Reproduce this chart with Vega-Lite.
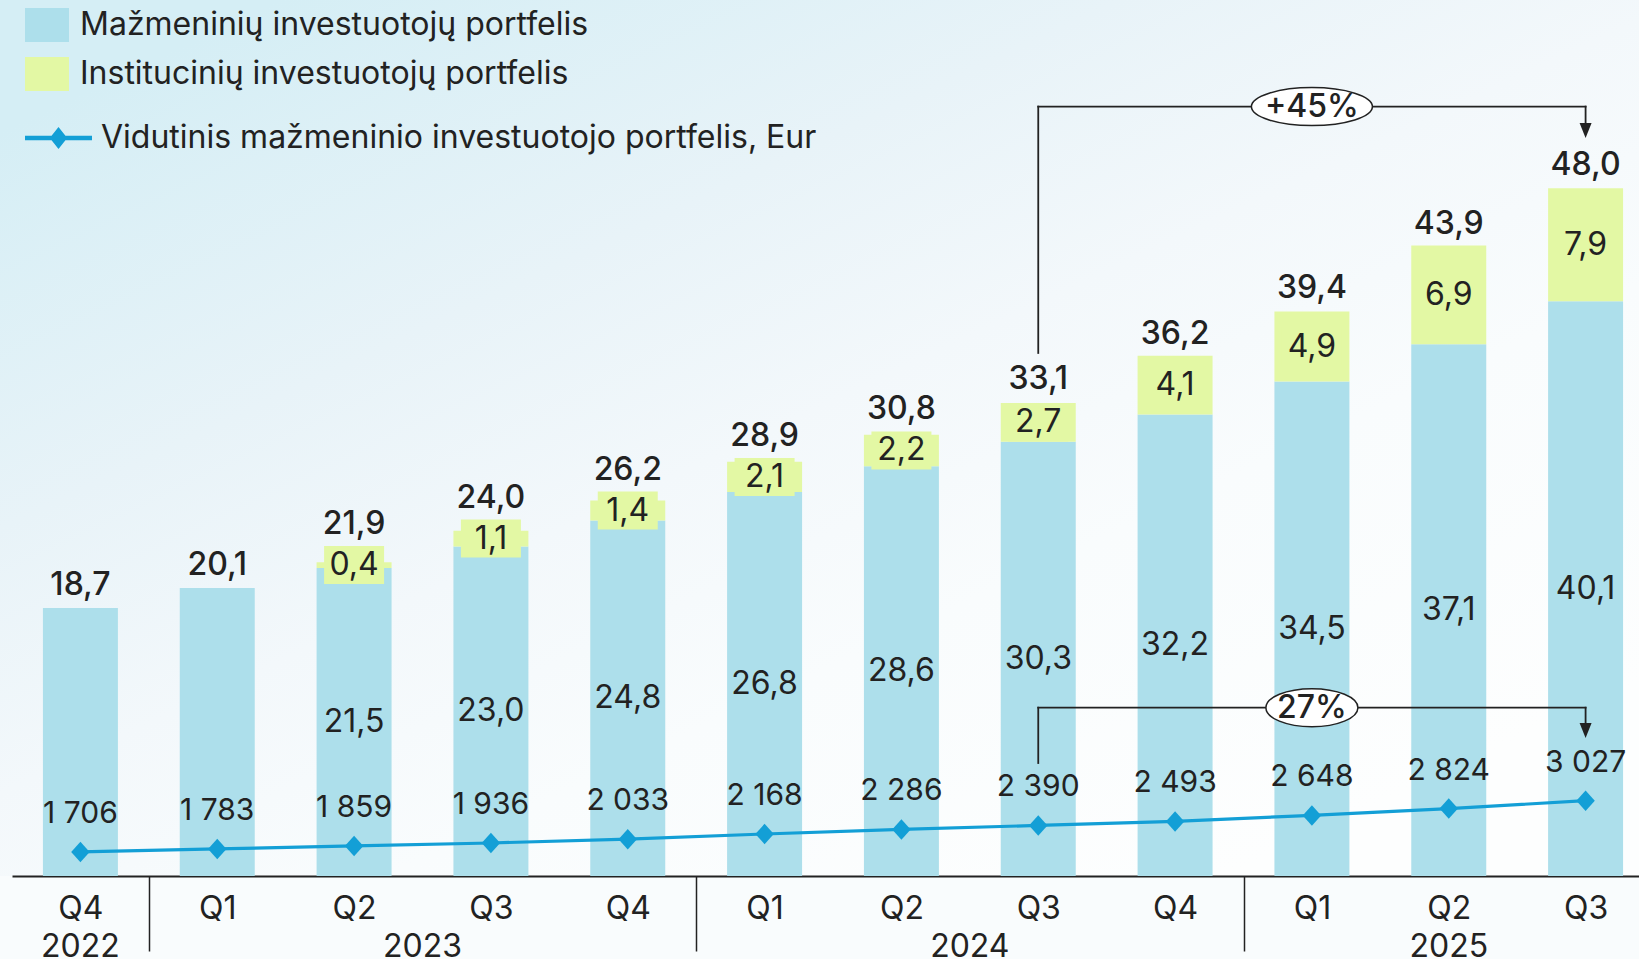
{
  "$schema": "https://vega.github.io/schema/vega-lite/v6.json",
  "width": 1639,
  "height": 876,
  "autosize": {"type": "none"},
  "padding": {"left": 0, "top": 0, "right": 0, "bottom": 83},
  "background": "#f9fcfd",
  "view": {
    "stroke": null,
    "fill": {
      "gradient": "linear",
      "x1": 0, "y1": 0.15, "x2": 0.75, "y2": 1,
      "stops": [
        {"offset": 0, "color": "#d5eef5"},
        {"offset": 0.3, "color": "#e8f3f8"},
        {"offset": 0.5, "color": "#f3f8fb"},
        {"offset": 0.7, "color": "#f9fcfd"},
        {"offset": 1, "color": "#fdfefe"}
      ]
    }
  },
  "config": {
    "font": "Inter",
    "locale": {"number": {"decimal": ",", "thousands": " ", "grouping": [3], "currency": ["", ""]}},
    "view": {"stroke": null}
  },
  "data": {
    "values": [
      {"q": "2022 Q4", "retail": 18.7, "inst": null, "total": 18.7, "avg": 1706},
      {"q": "2023 Q1", "retail": 20.1, "inst": null, "total": 20.1, "avg": 1783},
      {"q": "2023 Q2", "retail": 21.5, "inst": 0.4, "total": 21.9, "avg": 1859},
      {"q": "2023 Q3", "retail": 23.0, "inst": 1.1, "total": 24.0, "avg": 1936},
      {"q": "2023 Q4", "retail": 24.8, "inst": 1.4, "total": 26.2, "avg": 2033},
      {"q": "2024 Q1", "retail": 26.8, "inst": 2.1, "total": 28.9, "avg": 2168},
      {"q": "2024 Q2", "retail": 28.6, "inst": 2.2, "total": 30.8, "avg": 2286},
      {"q": "2024 Q3", "retail": 30.3, "inst": 2.7, "total": 33.1, "avg": 2390},
      {"q": "2024 Q4", "retail": 32.2, "inst": 4.1, "total": 36.2, "avg": 2493},
      {"q": "2025 Q1", "retail": 34.5, "inst": 4.9, "total": 39.4, "avg": 2648},
      {"q": "2025 Q2", "retail": 37.1, "inst": 6.9, "total": 43.9, "avg": 2824},
      {"q": "2025 Q3", "retail": 40.1, "inst": 7.9, "total": 48.0, "avg": 3027}
    ]
  },
  "encoding": {
    "x": {
      "field": "q",
      "type": "nominal",
      "sort": null,
      "scale": {
        "domain": ["2022 Q4", "2023 Q1", "2023 Q2", "2023 Q3", "2023 Q4", "2024 Q1", "2024 Q2", "2024 Q3", "2024 Q4", "2025 Q1", "2025 Q2", "2025 Q3"],
        "range": [12, 1654],
        "paddingInner": 0,
        "paddingOuter": 0
      },
      "axis": {
        "title": null,
        "grid": false,
        "domainColor": "#222222",
        "domainWidth": 2,
        "tickBand": "extent",
        "tickSize": 75,
        "tickWidth": 1.5,
        "tickColor": {
          "condition": {"test": "indexof(['2022 Q4','2023 Q4','2024 Q4'], datum.value) >= 0", "value": "#222222"},
          "value": "transparent"
        },
        "labelExpr": "split(datum.value, ' ')[1]",
        "labelAngle": 0,
        "labelAlign": "center",
        "labelFontSize": 32,
        "labelColor": "#222222",
        "labelBaseline": "middle",
        "labelPadding": -43,
        "labelOverlap": false,
        "labelBound": false,
        "labelFlush": false
      }
    }
  },
  "layer": [
    {
      "layer": [
        {
          "transform": [{"fold": ["retail", "inst"], "as": ["key", "value"]}],
          "mark": {"type": "bar", "width": {"band": 0.548}},
          "encoding": {
            "y": {"field": "value", "type": "quantitative", "stack": "zero", "scale": {"domain": [0, 61.13], "nice": false, "zero": false}, "axis": null},
            "color": {
              "field": "key",
              "type": "nominal",
              "scale": {"domain": ["retail", "inst"], "range": ["#addfeb", "#e3f8a4"]},
              "legend": {
                "title": null,
                "orient": "none",
                "legendX": 25,
                "legendY": 3,
                "direction": "vertical",
                "padding": 0,
                "symbolType": "M-1,-0.773H1V0.773H-1Z",
                "symbolSize": 1936,
                "symbolStrokeWidth": 0,
                "symbolOpacity": 1,
                "labelFontSize": 32,
                "labelColor": "#222222",
                "labelOffset": 11,
                "labelLimit": 0,
                "rowPadding": 9,
                "labelExpr": "datum.value == 'retail' ? 'Mažmeninių investuotojų portfelis' : 'Institucinių investuotojų portfelis'"
              }
            },
            "order": {"field": "key", "sort": "descending"}
          }
        },
        {
          "transform": [{"filter": "datum.inst == null || datum.inst >= 2.65"}],
          "mark": {"type": "text", "baseline": "middle", "dy": -23, "fontSize": 32, "fontWeight": 500, "color": "#222222"},
          "encoding": {
            "y": {"field": "total", "type": "quantitative", "scale": {"domain": [0, 61.13], "nice": false, "zero": false}, "axis": null},
            "text": {"field": "total", "type": "quantitative", "format": ".1f"}
          }
        },
        {
          "data": {"values": [{"q": "2022 Q4", "year": "2022"}, {"q": "2025 Q2", "year": "2025"}]},
          "mark": {"type": "text", "baseline": "middle", "fontSize": 32, "color": "#222222"},
          "encoding": {
            "x": {"field": "q", "type": "nominal", "bandPosition": 0.5},
            "y": {"datum": -4.95, "type": "quantitative", "scale": {"domain": [0, 61.13], "nice": false, "zero": false}, "axis": null},
            "text": {"field": "year"}
          }
        },
        {
          "data": {"values": [{"q": "2023 Q2", "year": "2023"}, {"q": "2024 Q2", "year": "2024"}]},
          "mark": {"type": "text", "baseline": "middle", "fontSize": 32, "color": "#222222"},
          "encoding": {
            "x": {"field": "q", "type": "nominal", "bandPosition": 1},
            "y": {"datum": -4.95, "type": "quantitative", "scale": {"domain": [0, 61.13], "nice": false, "zero": false}, "axis": null},
            "text": {"field": "year"}
          }
        },
        {
          "data": {"values": [{}]},
          "mark": {"type": "rule", "color": "#222222", "strokeWidth": 1.8, "strokeCap": "square"},
          "encoding": {"x": {"datum": "2024 Q3"}, "y": {"datum": 36.5, "type": "quantitative", "scale": {"domain": [0, 61.13], "nice": false, "zero": false}, "axis": null}, "y2": {"datum": 53.69}}
        },
        {
          "data": {"values": [{}]},
          "mark": {"type": "rule", "color": "#222222", "strokeWidth": 1.8, "strokeCap": "square"},
          "encoding": {"x": {"datum": "2024 Q3"}, "x2": {"datum": "2025 Q3"}, "y": {"datum": 53.69, "type": "quantitative", "scale": {"domain": [0, 61.13], "nice": false, "zero": false}, "axis": null}}
        },
        {
          "data": {"values": [{}]},
          "mark": {"type": "rule", "color": "#222222", "strokeWidth": 1.8, "strokeCap": "square"},
          "encoding": {"x": {"datum": "2025 Q3"}, "y": {"datum": 53.69, "type": "quantitative", "scale": {"domain": [0, 61.13], "nice": false, "zero": false}, "axis": null}, "y2": {"datum": 52.4}}
        },
        {
          "data": {"values": [{}]},
          "mark": {"type": "point", "shape": "M-0.8,-1L0.8,-1L0,1Z", "size": 225, "filled": true, "fill": "#222222", "opacity": 1, "strokeWidth": 0},
          "encoding": {"x": {"datum": "2025 Q3"}, "y": {"datum": 52.02, "type": "quantitative", "scale": {"domain": [0, 61.13], "nice": false, "zero": false}, "axis": null}}
        },
        {
          "data": {"values": [{}]},
          "mark": {"type": "point", "shape": "M-1,0A1,0.314,0,1,1,1,0A1,0.314,0,1,1,-1,0Z", "size": 14641, "filled": true, "fill": "#ffffff", "stroke": "#222222", "strokeWidth": 1.5, "opacity": 1},
          "encoding": {"x": {"datum": "2025 Q1"}, "y": {"datum": 53.69, "type": "quantitative", "scale": {"domain": [0, 61.13], "nice": false, "zero": false}, "axis": null}}
        },
        {
          "data": {"values": [{}]},
          "mark": {"type": "text", "text": "+45%", "baseline": "middle", "fontSize": 32, "fontWeight": 500, "color": "#222222"},
          "encoding": {"x": {"datum": "2025 Q1"}, "y": {"datum": 53.69, "type": "quantitative", "scale": {"domain": [0, 61.13], "nice": false, "zero": false}, "axis": null}}
        },
        {
          "data": {"values": [{}]},
          "mark": {"type": "rule", "color": "#222222", "strokeWidth": 1.8, "strokeCap": "square"},
          "encoding": {"x": {"datum": "2024 Q3"}, "y": {"datum": 7.885, "type": "quantitative", "scale": {"domain": [0, 61.13], "nice": false, "zero": false}, "axis": null}, "y2": {"datum": 11.745}}
        },
        {
          "data": {"values": [{}]},
          "mark": {"type": "rule", "color": "#222222", "strokeWidth": 1.8, "strokeCap": "square"},
          "encoding": {"x": {"datum": "2024 Q3"}, "x2": {"datum": "2025 Q3"}, "y": {"datum": 11.745, "type": "quantitative", "scale": {"domain": [0, 61.13], "nice": false, "zero": false}, "axis": null}}
        },
        {
          "data": {"values": [{}]},
          "mark": {"type": "rule", "color": "#222222", "strokeWidth": 1.8, "strokeCap": "square"},
          "encoding": {"x": {"datum": "2025 Q3"}, "y": {"datum": 11.745, "type": "quantitative", "scale": {"domain": [0, 61.13], "nice": false, "zero": false}, "axis": null}, "y2": {"datum": 10.6}}
        },
        {
          "data": {"values": [{}]},
          "mark": {"type": "point", "shape": "M-0.8,-1L0.8,-1L0,1Z", "size": 225, "filled": true, "fill": "#222222", "opacity": 1, "strokeWidth": 0},
          "encoding": {"x": {"datum": "2025 Q3"}, "y": {"datum": 10.15, "type": "quantitative", "scale": {"domain": [0, 61.13], "nice": false, "zero": false}, "axis": null}}
        },
        {
          "data": {"values": [{}]},
          "mark": {"type": "point", "shape": "M-1,0A1,0.413,0,1,1,1,0A1,0.413,0,1,1,-1,0Z", "size": 8464, "filled": true, "fill": "#ffffff", "stroke": "#222222", "strokeWidth": 1.5, "opacity": 1},
          "encoding": {"x": {"datum": "2025 Q1"}, "y": {"datum": 11.745, "type": "quantitative", "scale": {"domain": [0, 61.13], "nice": false, "zero": false}, "axis": null}}
        },
        {
          "data": {"values": [{}]},
          "mark": {"type": "text", "text": "27%", "baseline": "middle", "fontSize": 32, "fontWeight": 500, "color": "#222222"},
          "encoding": {"x": {"datum": "2025 Q1"}, "y": {"datum": 11.745, "type": "quantitative", "scale": {"domain": [0, 61.13], "nice": false, "zero": false}, "axis": null}}
        }
      ]
    },
    {
      "transform": [
        {"filter": "datum.inst != null"},
        {"fold": ["retail", "inst"], "as": ["key", "value"]},
        {"window": [{"op": "sum", "field": "value", "as": "cum"}], "groupby": ["q"], "sort": [{"field": "key", "order": "descending"}], "frame": [null, 0]},
        {"window": [{"op": "sum", "field": "cum", "as": "cum2"}], "groupby": ["q"], "sort": [{"field": "key", "order": "descending"}], "frame": [null, 0]}
      ],
      "layer": [
        {
          "transform": [{"filter": "datum.key == 'inst'"}],
          "mark": {"type": "point", "shape": "M-1,-0.633H1V0.633H-1Z", "size": 3600, "filled": true, "fill": "#e3f8a4", "opacity": 1, "strokeWidth": 0},
          "encoding": {
            "y": {"field": "cum2", "type": "quantitative", "scale": {"domain": [0, 122.26], "nice": false, "zero": false}, "axis": null}
          }
        },
        {
          "mark": {"type": "text", "baseline": "middle", "fontSize": 32, "color": "#222222"},
          "encoding": {
            "y": {"field": "cum2", "type": "quantitative", "scale": {"domain": [0, 122.26], "nice": false, "zero": false}, "axis": null},
            "text": {"field": "value", "type": "quantitative", "format": ".1f"}
          }
        },
        {
          "transform": [{"filter": "datum.key == 'inst' && datum.inst < 2.65"}],
          "mark": {"type": "text", "baseline": "middle", "dy": -41, "fontSize": 32, "fontWeight": 500, "color": "#222222"},
          "encoding": {
            "y": {"field": "cum2", "type": "quantitative", "scale": {"domain": [0, 122.26], "nice": false, "zero": false}, "axis": null},
            "text": {"field": "total", "type": "quantitative", "format": ".1f"}
          }
        }
      ]
    },
    {
      "layer": [
        {
          "mark": {"type": "line", "strokeWidth": 3.2},
          "encoding": {
            "y": {"field": "avg", "type": "quantitative", "scale": {"domain": [1084, 23685], "nice": false, "zero": false}, "axis": null},
            "stroke": {
              "datum": "Vidutinis mažmeninio investuotojo portfelis, Eur",
              "type": "nominal",
              "scale": {"range": ["#139fd6"]},
              "legend": {
                "title": null,
                "orient": "none",
                "legendX": 25,
                "legendY": 104.5,
                "padding": 0,
                "symbolType": "M-1,-0.065H1V0.065H-1Z M0,-0.33L0.26,0L0,0.33L-0.26,0Z",
                "symbolSize": 4489,
                "symbolFillColor": "#139fd6",
                "symbolStrokeWidth": 0,
                "labelFontSize": 32,
                "labelColor": "#222222",
                "labelOffset": 9,
                "labelLimit": 0,
                "encode": {"symbols": {"update": {"fill": {"value": "#139fd6"}, "strokeWidth": {"value": 0}, "opacity": {"value": 1}}}}
              }
            }
          }
        },
        {
          "mark": {"type": "point", "shape": "M0,-1L0.9,0L0,1L-0.9,0Z", "size": 420, "filled": true, "fill": "#139fd6", "opacity": 1, "strokeWidth": 0},
          "encoding": {
            "y": {"field": "avg", "type": "quantitative", "scale": {"domain": [1084, 23685], "nice": false, "zero": false}, "axis": null}
          }
        },
        {
          "mark": {"type": "text", "baseline": "middle", "dy": -38, "fontSize": 30, "color": "#222222"},
          "encoding": {
            "y": {"field": "avg", "type": "quantitative", "scale": {"domain": [1084, 23685], "nice": false, "zero": false}, "axis": null},
            "text": {"field": "avg", "type": "quantitative", "format": ",.0f"}
          }
        }
      ]
    }
  ],
  "resolve": {"scale": {"y": "independent"}}
}
